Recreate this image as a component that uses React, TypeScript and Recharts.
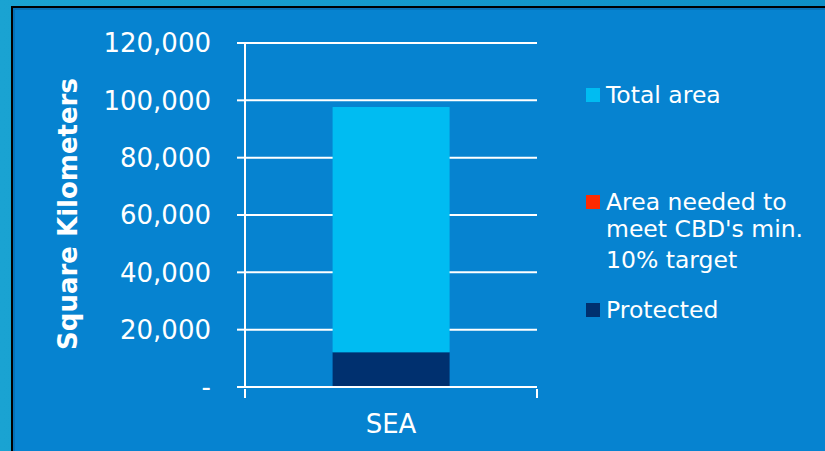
import { BarChart, Bar, XAxis, YAxis, CartesianGrid, Legend } from 'recharts';

const categories = ['SEA'];
const protectedArea = [12150];
const neededArea = [0];
const totalArea = [85550];
const yTicks = [0, 20000, 40000, 60000, 80000, 100000, 120000];

const series = [
  { key: 'total', label: ['Total area'], color: '#00bcf2' },
  { key: 'needed', label: ['Area needed to', "meet CBD's min.", '10% target'], color: '#ff2a00' },
  { key: 'protected', label: ['Protected'], color: '#00306f' },
];

const data = categories.map((name, i) => ({
  name,
  protected: protectedArea[i],
  needed: neededArea[i],
  total: totalArea[i],
}));

const W = 825;
const H = 451;
const MARGIN = { top: 43, right: 288, bottom: 24, left: 0 };
const Y_AXIS_W = 245;
const HALF_BAND = (W - MARGIN.right - MARGIN.left - Y_AXIS_W) / categories.length / 2;
const FONT = 'DejaVu Sans, Verdana, sans-serif';

const CategoryTick = (props: any) => {
  const { x, y, payload } = props;
  return (
    <g>
      <line x1={x - HALF_BAND} y1={y} x2={x - HALF_BAND} y2={y + 9} stroke="#fff" strokeWidth={2} />
      <line x1={x + HALF_BAND} y1={y} x2={x + HALF_BAND} y2={y + 9} stroke="#fff" strokeWidth={2} />
      <text x={x} y={y + 44} textAnchor="middle" fill="#fff" fontSize={26} fontFamily={FONT}>
        {payload.value}
      </text>
    </g>
  );
};

// legend rows: swatch top + text baselines, relative to legend box
const legendRows = [
  { swatch: 18, lines: [33] },
  { swatch: 125, lines: [140, 167, 198] },
  { swatch: 233, lines: [248] },
];

const renderLegend = () => (
  <svg width={240} height={265} style={{ display: 'block' }}>
    {series.map((s, i) => (
      <g key={s.key}>
        <rect x={6} y={legendRows[i].swatch} width={14} height={14} fill={s.color} />
        {s.label.map((line, j) => (
          <text key={j} x={26} y={legendRows[i].lines[j]} fill="#fff" fontSize={23.5} fontFamily={FONT}>
            {line}
          </text>
        ))}
      </g>
    ))}
  </svg>
);

export default function App() {
  return (
    <div
      style={{
        position: 'absolute',
        left: 0,
        top: 0,
        width: W,
        height: H,
        overflow: 'hidden',
        background: 'linear-gradient(90deg, #1aa3d2 0%, #0d8fc7 100%)',
      }}
    >
      <div
        style={{
          position: 'absolute',
          left: 11,
          top: 6,
          width: W,
          height: H,
          borderTop: '2px solid #000',
          borderLeft: '2px solid #000',
          background: '#0683d0',
          boxShadow: 'inset 2px 2px 0 #0672b8',
        }}
      />
      <div style={{ position: 'absolute', left: 0, top: 0 }}>
        <BarChart width={W} height={H} data={data} margin={MARGIN} barCategoryGap="30%" style={{ fontFamily: FONT }}>
          <CartesianGrid horizontal vertical={false} stroke="#fff" strokeWidth={2} />
          <XAxis
            dataKey="name"
            height={40}
            axisLine={{ stroke: '#fff', strokeWidth: 2 }}
            tickLine={false}
            tickSize={0}
            tick={<CategoryTick />}
          />
          <YAxis
            width={Y_AXIS_W}
            domain={[0, 120000]}
            ticks={yTicks}
            interval={0}
            axisLine={{ stroke: '#fff', strokeWidth: 2 }}
            tickLine={{ stroke: '#fff', strokeWidth: 2 }}
            tickSize={8}
            tickMargin={26}
            tick={{ fill: '#fff', fontSize: 26, fontFamily: FONT }}
            tickFormatter={(v: number) => (v === 0 ? '-' : v.toLocaleString('en-US'))}
            label={{
              content: () => (
                <text
                  x={68}
                  y={214}
                  transform="rotate(-90 68 214)"
                  textAnchor="middle"
                  dominantBaseline="central"
                  fill="#fff"
                  fontSize={26}
                  fontWeight="bold"
                  fontFamily={FONT}
                >
                  Square Kilometers
                </text>
              ),
            }}
          />
          <Legend
            layout="vertical"
            align="center"
            verticalAlign="middle"
            content={renderLegend}
            wrapperStyle={{ left: 580, top: 70, width: 240, height: 265 }}
          />
          <Bar dataKey="protected" stackId="a" fill="#00306f" isAnimationActive={false} />
          <Bar dataKey="needed" stackId="a" fill="#ff2a00" isAnimationActive={false} />
          <Bar dataKey="total" stackId="a" fill="#00bcf2" isAnimationActive={false} />
        </BarChart>
      </div>
    </div>
  );
}
